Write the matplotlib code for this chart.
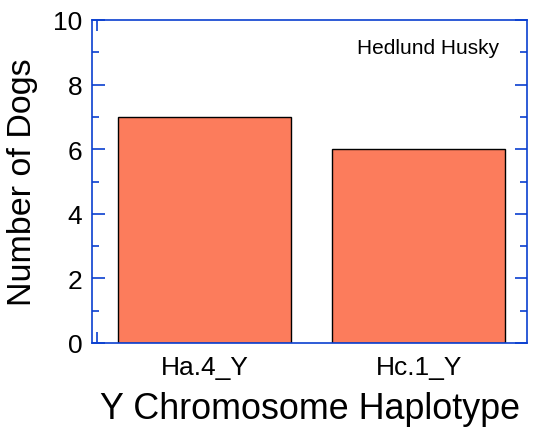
import matplotlib
matplotlib.use("Agg")
import matplotlib.pyplot as plt
from matplotlib.ticker import MultipleLocator, FixedLocator

categories = ["Ha.4_Y", "Hc.1_Y"]
counts = [7, 6]
breed = "Hedlund Husky"

plt.rcParams['font.family'] = ['Liberation Sans', 'DejaVu Sans']
blue = '#0a3fd0'
fill = '#fc7c5c'

fig = plt.figure(figsize=(5.37, 4.31), dpi=100)
ax = fig.add_axes([92/537, 1-344/431, (527-92)/537, (344-21)/431])

x = list(range(len(categories)))
ax.bar(x, counts, width=0.806, color=fill, edgecolor='black', linewidth=1.0, zorder=2)

ax.set_xlim(-0.525, 1.505)
ax.set_ylim(0, 10)
ax.yaxis.set_major_locator(MultipleLocator(2))
ax.yaxis.set_minor_locator(MultipleLocator(1))
ax.set_xticks(x)
ax.set_xticklabels(categories)

for s in ax.spines.values():
    s.set_color(blue)
    s.set_linewidth(1.2)

ax.tick_params(axis='y', which='major', direction='in', length=9, width=1.2, color=blue,
               right=True, labelsize=19, pad=7)
ax.tick_params(axis='y', which='minor', direction='in', length=5, width=1.2, color=blue, right=True)
ax.tick_params(axis='x', which='major', length=0, labelsize=19, pad=9)
ax.xaxis.set_minor_locator(FixedLocator([-0.5]))
ax.tick_params(axis='x', which='minor', direction='in', length=8, width=1.2, color=blue, top=True)

ax.set_ylabel("Number of Dogs", fontsize=24.5, labelpad=11)
ax.set_xlabel("Y Chromosome Haplotype", fontsize=25.8, labelpad=8)
ax.text(0.935, 0.915, breed, transform=ax.transAxes, ha='right', va='center', fontsize=15)

fig.savefig("out.png", dpi=100)
